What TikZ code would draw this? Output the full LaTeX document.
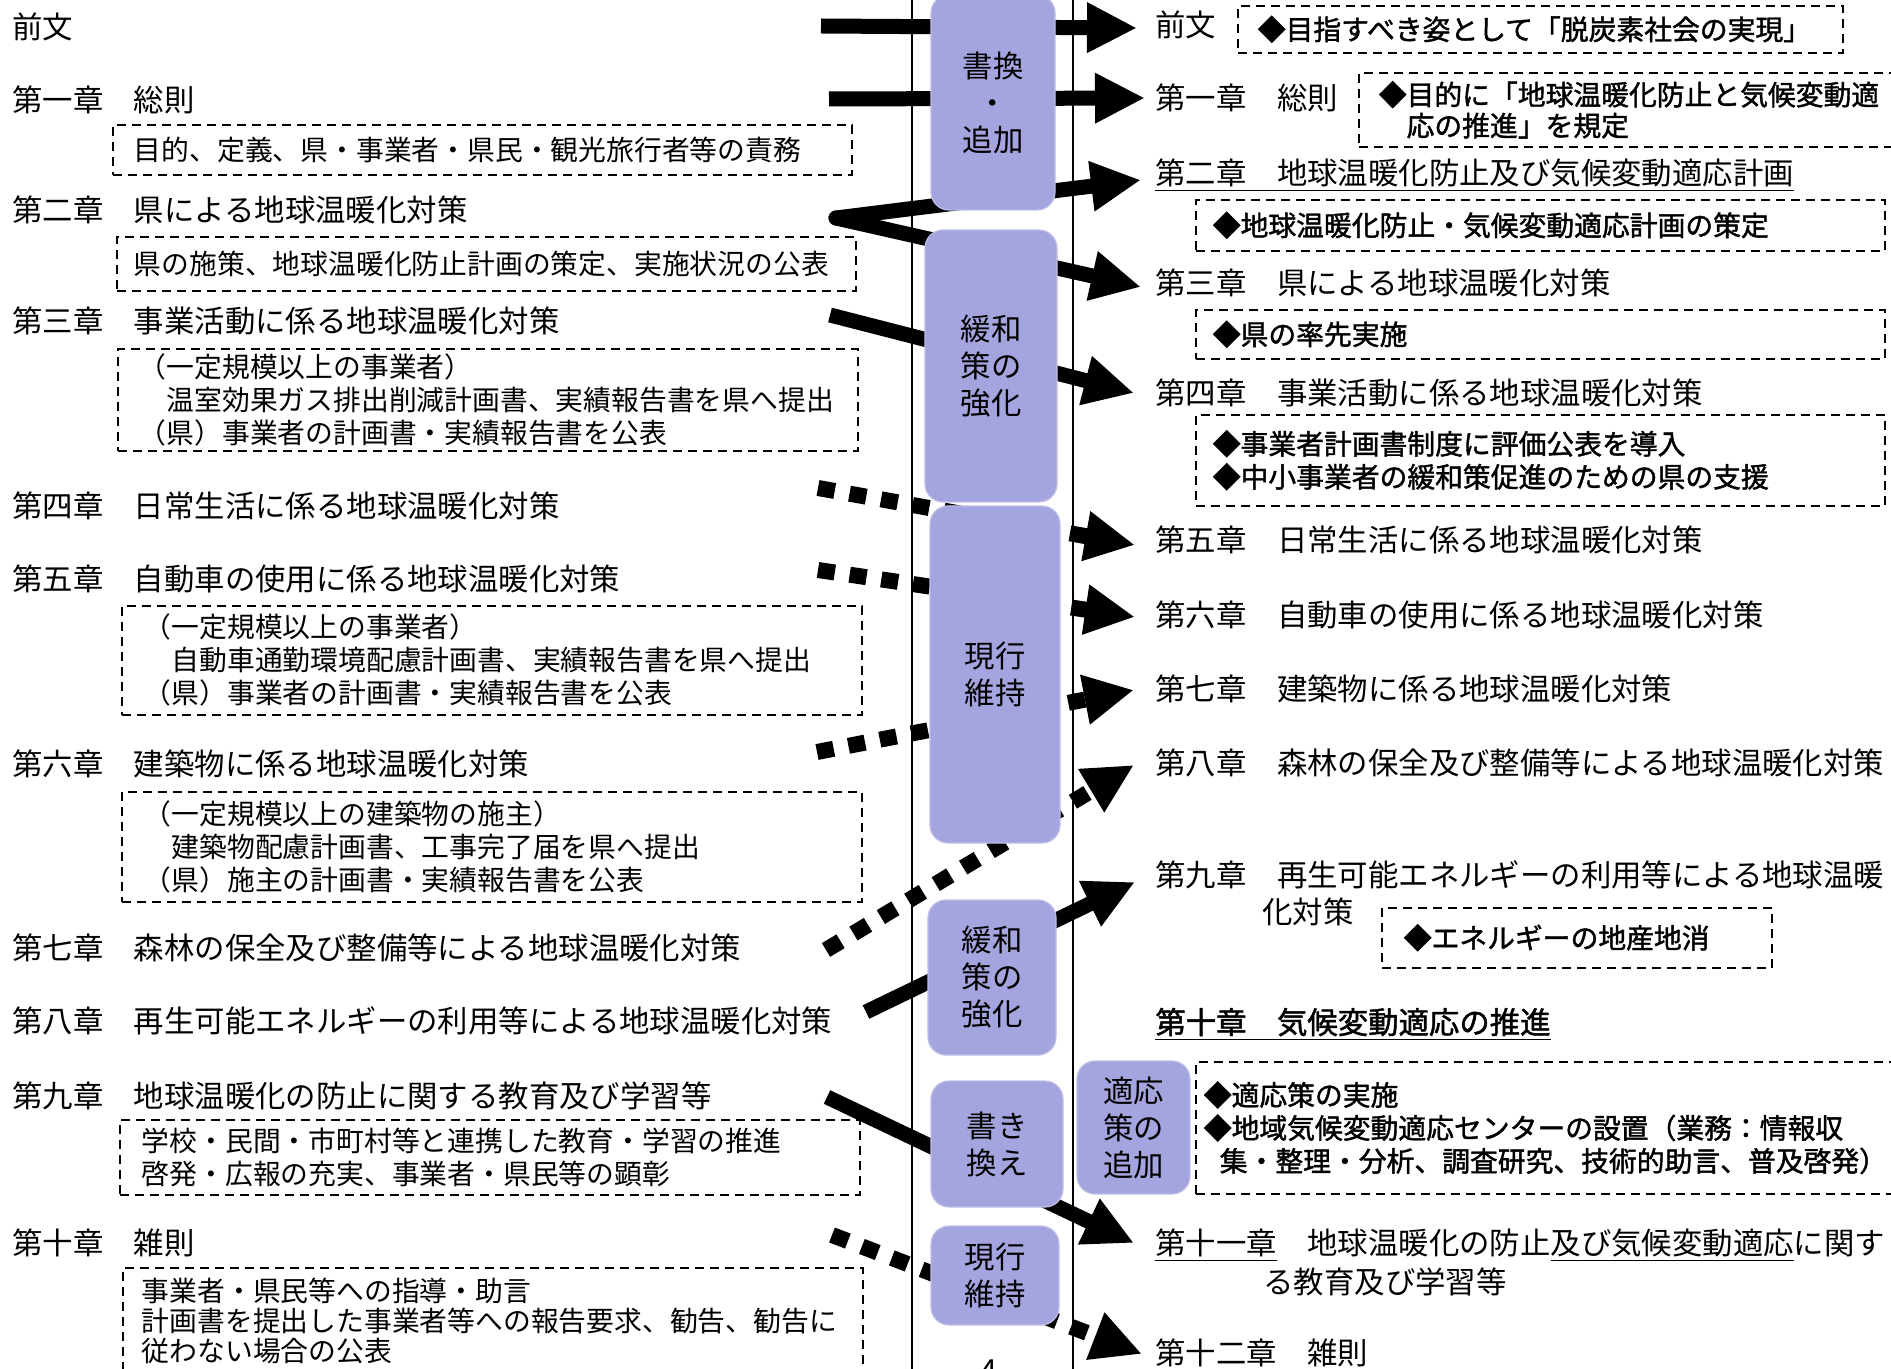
\documentclass[tikz,border=0pt]{standalone}
\usepackage{fontspec}
\setmainfont{Noto Sans CJK JP}
\newfontfamily\gothb[FakeBold=1.5]{Noto Sans CJK JP}
\usepackage{xcolor}
\usepackage{tikz}
\usetikzlibrary{arrows.meta,positioning}
\definecolor{tagblue}{RGB}{164,164,222}
\newcommand{\undl}[1]{\underline{#1\vphantom{（）}}}

\begin{document}
\begin{tikzpicture}[x=0.5pt,y=-0.5pt,>={Triangle[length=25pt,width=23.5pt]},
  chap/.style={anchor=west,inner sep=0pt,font=\fontsize{15.2}{18}\selectfont,
    text height=13.4pt,text depth=1.8pt},
  note/.style={draw,anchor=north west,align=left,inner ysep=0pt,
    dash pattern=on 4.5pt off 3pt,line width=0.8pt,
    font=\fontsize{13.9}{16.5}\selectfont},
  diam/.style={font=\gothb\fontsize{13.9}{16.5}\selectfont},
  tag/.style={fill=tagblue,draw=tagblue!70!white,line width=0.6pt,
    rounded corners=9pt,align=center,inner sep=0pt,
    font=\fontsize{15.2}{18.5}\selectfont},
  kept/.style={->,line width=8pt,dash pattern=on 8.5pt off 7.5pt},
  changed/.style={->,line width=7.5pt}]

\useasboundingbox (0,0) rectangle (1891,1369);

\draw[line width=1pt] (912,0) -- (912,1369) (1073,0) -- (1073,1369);

\node[chap] (L_0) at (12,27) {前文};
\node[chap] (L_1) at (12,100) {第一章　総則};
\node[note,text width=348.5pt,inner xsep=10.5pt,minimum height=25pt] (D_1) at (112,124)
  {目的、定義、県・事業者・県民・観光旅行者等の責務};
\node[chap] (L_2) at (12,210) {第二章　県による地球温暖化対策};
\node[note,text width=352.5pt,inner xsep=8.5pt,minimum height=27pt] (D_2) at (116,236)
  {県の施策、地球温暖化防止計画の策定、実施状況の公表};
\node[chap] (L_3) at (12,321) {第三章　事業活動に係る地球温暖化対策};
\node[note,text width=349pt,inner xsep=10.5pt,minimum height=51pt] (D_3) at (117,348)
  {（一定規模以上の事業者）\\　温室効果ガス排出削減計画書、実績報告書を県へ提出\\（県）事業者の計画書・実績報告書を公表};
\node[chap] (L_4) at (12,506) {第四章　日常生活に係る地球温暖化対策};
\node[chap] (L_5) at (12,579) {第五章　自動車の使用に係る地球温暖化対策};
\node[note,text width=348pt,inner xsep=11pt,minimum height=54.5pt] (D_5) at (121,605)
  {（一定規模以上の事業者）\\　自動車通勤環境配慮計画書、実績報告書を県へ提出\\（県）事業者の計画書・実績報告書を公表};
\node[chap] (L_6) at (12,764) {第六章　建築物に係る地球温暖化対策};
\node[note,text width=348pt,inner xsep=11pt,minimum height=55pt] (D_6) at (121,791)
  {（一定規模以上の建築物の施主）\\　建築物配慮計画書、工事完了届を県へ提出\\（県）施主の計画書・実績報告書を公表};
\node[chap] (L_7) at (12,948) {第七章　森林の保全及び整備等による地球温暖化対策};
\node[chap] (L_8) at (12,1021) {第八章　再生可能エネルギーの利用等による地球温暖化対策};
\node[chap] (L_9) at (12,1096) {第九章　地球温暖化の防止に関する教育及び学習等};
\node[note,text width=348pt,inner xsep=11pt,minimum height=37.5pt] (D_9) at (119,1119)
  {学校・民間・市町村等と連携した教育・学習の推進\\啓発・広報の充実、事業者・県民等の顕彰};
\node[chap] (L_10) at (12,1243) {第十章　雑則};
\node[note,text width=351pt,inner xsep=9.5pt,minimum height=53pt,
  font=\fontsize{13.9}{15}\selectfont] (D_10) at (122,1267)
  {事業者・県民等への指導・助言\\計画書を提出した事業者等への報告要求、勧告、勧告に\\従わない場合の公表};

\node[chap] (R_0) at (1155,25) {前文};
\node[note,diam,text width=282.5pt,inner xsep=10pt,minimum height=23.5pt] (E_0) at (1237,5)
  {◆目指すべき姿として「脱炭素社会の実現」};
\node[chap] (R_1) at (1155,98) {第一章　総則};
\node[note,diam,text width=280pt,inner xsep=10pt,minimum height=37pt,
  font=\gothb\fontsize{13.9}{15.5}\selectfont] (E_1) at (1358,72)
  {◆目的に「地球温暖化防止と気候変動適\\　応の推進」を規定};
\node[chap] (R_2) at (1155,173) {\undl{第二章　地球温暖化防止及び気候変動適応計画}};
\node[note,diam,text width=327.5pt,inner xsep=8.5pt,minimum height=25.5pt] (E_2) at (1195,199)
  {◆地球温暖化防止・気候変動適応計画の策定};
\node[chap] (R_3) at (1155,283) {第三章　県による地球温暖化対策};
\node[note,diam,text width=327.5pt,inner xsep=8.5pt,minimum height=24.5pt] (E_3) at (1195,309)
  {◆県の率先実施};
\node[chap] (R_4) at (1155,393) {第四章　事業活動に係る地球温暖化対策};
\node[note,diam,text width=327.5pt,inner xsep=8.5pt,minimum height=45.5pt] (E_4) at (1195,414)
  {◆事業者計画書制度に評価公表を導入\\◆中小事業者の緩和策促進のための県の支援};
\node[chap] (R_5) at (1155,540) {第五章　日常生活に係る地球温暖化対策};
\node[chap] (R_6) at (1155,615) {第六章　自動車の使用に係る地球温暖化対策};
\node[chap] (R_7) at (1155,689) {第七章　建築物に係る地球温暖化対策};
\node[chap] (R_8) at (1155,763) {第八章　森林の保全及び整備等による地球温暖化対策};
\node[chap] (R_9) at (1155,875) {第九章　再生可能エネルギーの利用等による地球温暖};
\node[chap] (R_9b) at (1262,912) {化対策};
\node[note,diam,text width=173pt,inner xsep=11pt,minimum height=30pt] (E_9) at (1381,907)
  {◆エネルギーの地産地消};
\node[chap,font=\gothb\fontsize{15.2}{18}\selectfont] (R_10) at (1155,1022)
  {\undl{第十章　気候変動適応の推進}};
\node[note,diam,text width=352pt,inner xsep=4pt,minimum height=66pt] (E_10) at (1195,1061)
  {◆適応策の実施\\◆地域気候変動適応センターの設置（業務：情報収\\\hspace*{8pt}集・整理・分析、調査研究、技術的助言、普及啓発）};
\node[chap] (R_11) at (1155,1243) {\undl{第十一章}　地球温暖化の防止\undl{及び気候変動適応}に関す};
\node[chap] (R_11b) at (1263,1282) {る教育及び学習等};
\node[chap] (R_12) at (1155,1353) {\undl{第十二章}　雑則};

\coordinate (s_0) at (821,26);   \coordinate (t_0) at (1137,28);
\coordinate (s_1) at (829,99);   \coordinate (t_1) at (1145,98);
\coordinate (m_2) at (836,218);  \coordinate (t_2) at (1141,180);
\coordinate (t_3) at (1141,287);
\coordinate (s_4) at (830,315);  \coordinate (t_4) at (1134,393);
\coordinate (s_5) at (818,488);  \coordinate (t_5) at (1135,545);
\coordinate (s_6) at (818,570);  \coordinate (t_6) at (1135,617);
\coordinate (s_7) at (817,752);  \coordinate (t_7) at (1134,690);
\coordinate (s_8) at (826,950);  \coordinate (t_8) at (1134,765);
\coordinate (s_9) at (866,1012); \coordinate (t_9) at (1135,882);
\coordinate (s_11) at (827,1097); \coordinate (t_11) at (1134,1243);
\coordinate (s_12) at (832,1235); \coordinate (t_12) at (1142,1354);

\path[changed]
  (s_0) edge (t_0)
  (s_1) edge (t_1)
  (m_2) edge [line cap=round] (t_2)
  (m_2) edge [line cap=round] (t_3)
  (s_4) edge (t_4)
  (s_9) edge (t_9)
  (s_11) edge (t_11)
;
\path[kept]
  (s_5) edge (t_5)
  (s_6) edge (t_6)
  (s_7) edge (t_7)
  (s_8) edge (t_8)
  (s_12) edge (t_12)
;

\node[tag,minimum width=62pt,minimum height=107.5pt] (B_1) at (993,102.5) {書換\\・\\追加};
\node[tag,minimum width=66pt,minimum height=136pt] (B_2) at (991,366) {緩和\\策の\\強化};
\node[tag,minimum width=65pt,minimum height=168.5pt] (B_3) at (995,674.5) {現行\\維持};
\node[tag,minimum width=64pt,minimum height=77.5pt] (B_4) at (992,977.5) {緩和\\策の\\強化};
\node[tag,minimum width=66pt,minimum height=63pt] (B_5) at (997,1144) {書き\\換え};
\node[tag,minimum width=64pt,minimum height=49.5pt] (B_6) at (995,1275.5) {現行\\維持};
\node[tag,minimum width=56.5pt,minimum height=66.5pt] (B_7) at (1133.5,1127.5) {適応\\策の\\追加};

\node[anchor=base,inner sep=0pt,font=\fontsize{15.2}{18}\selectfont] (page) at (989,1381) {4};
\end{tikzpicture}
\end{document}
